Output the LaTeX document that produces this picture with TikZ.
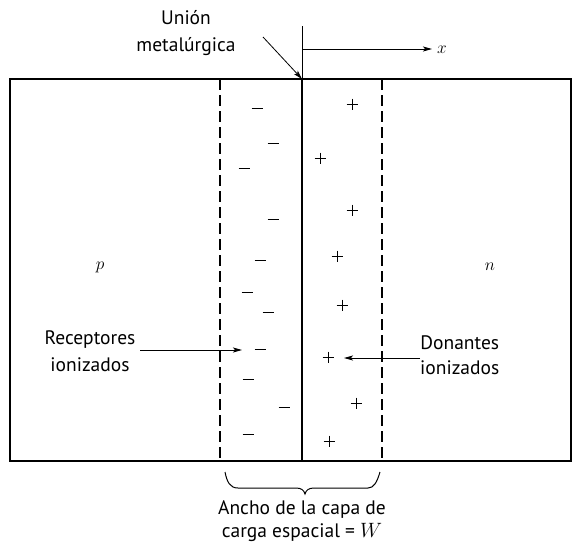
\documentclass[tikz,border=0pt]{standalone}
\usepackage{fontspec}
\setmainfont{PT Sans}
\usetikzlibrary{arrows.meta}
\begin{document}
\begin{tikzpicture}[x=1pt,y=-1pt,
  frame/.style={line width=1.3pt},
  junction/.style={line width=1.6pt},
  edge/.style={dash pattern=on 11pt off 5pt, line width=1.6pt},
  pointer/.style={line width=0.8pt,-{Stealth[length=9pt,width=5pt,inset=2pt]}},
  lbl/.style={font=\fontsize{19.5}{27}\selectfont, align=center, inner sep=0pt},
  sym/.style={font=\fontsize{18}{18}\selectfont, inner sep=0pt},
  minus/.pic={\draw[line width=0.9pt] (-5.5,0) -- (5.5,0);},
  plus/.pic={\draw[line width=0.9pt] (-5.5,0) -- (5.5,0) (0,-5.5) -- (0,5.5);}]
\useasboundingbox (0,0) rectangle (581,547);
% frame
\draw[frame] (10,79) rectangle (571,461);
% junction and edges
\coordinate (jt) at (302,79);
\coordinate (jb) at (302,461);
\draw[junction] (jt) -- (jb);
\coordinate (lt) at (220,79);
\coordinate (lb) at (220,461);
\coordinate (rt) at (382,79);
\coordinate (rb) at (382,461);
\draw[edge] (lt) -- (lb);
\draw[edge] (rt) -- (rb);
% x axis
\coordinate (tick) at (302,26);
\draw[line width=0.9pt] (tick) -- (jt);
\coordinate (ax0) at (302,49);
\node[sym, anchor=west] (xl) at (437,50) {$x$};
\coordinate (ax1) at (432,49);
\draw[pointer] (ax0) -- (ax1);
% union label
\node[lbl] (union) at (186,33) {Unión\\metalúrgica};
\coordinate (ua) at (263,37);
\draw[pointer] (ua) -- (jt);
% p and n
\node[sym] (p) at (100,267) {$p$};
\node[sym] (n) at (490,267) {$n$};
% minus signs
\foreach \x/\y in {257/108, 273/143, 244/168, 273/219, 260/260, 247/292, 268/312, 260/349, 248/379, 284/407, 248/434}
  \pic at (\x,\y) {minus};
% plus signs
\foreach \x/\y in {352/104, 320/158, 352/210, 337/256, 342/305, 328/357, 356/403, 329/441}
  \pic at (\x,\y) {plus};
% receptores
\node[lbl] (rec) at (90,351) {Receptores\\ionizados};
\coordinate (recend) at (242,350);
\draw[pointer] (140,350) -- (recend);
% donantes
\node[lbl, anchor=west, font=\fontsize{19.5}{25}\selectfont] (don) at (420,355) {Donantes\\ionizados};
\coordinate (donend) at (344,358);
\draw[pointer] (don.west |- donend) -- (donend);
% brace
\draw[line width=1pt] (225,472) .. controls (227,482) and (230,488) .. (238,488) -- (296,488) .. controls (301,488) and (304,490) .. (305,494) .. controls (306,490) and (309,488) .. (314,488) -- (368,488) .. controls (374,488) and (377,482) .. (380,472);
\node[lbl, font=\fontsize{19.5}{23}\selectfont] (w) at (302,521) {Ancho de la capa de\\carga espacial = $W$};
\end{tikzpicture}
\end{document}
